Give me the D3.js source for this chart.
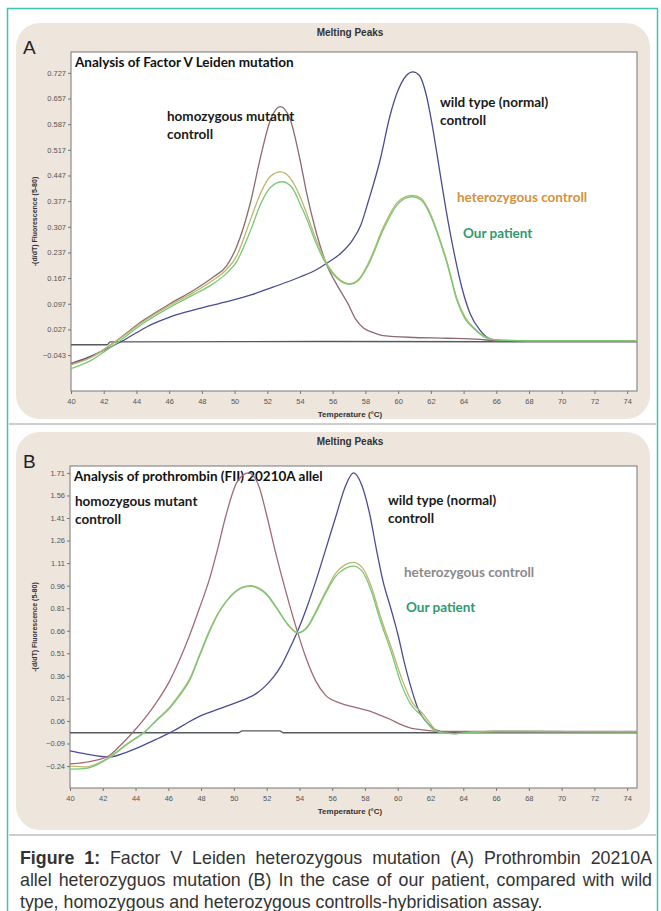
<!DOCTYPE html>
<html>
<head>
<meta charset="utf-8">
<script src="https://cdn.jsdelivr.net/npm/d3@7"></script>
<style>
    body { margin: 0; background: #fff; }
    #wrap { position: relative; width: 661px; height: 911px; }
    svg { position: absolute; left: 0; top: 0; }
    .tick text { font-family: 'Liberation Sans', Arial, sans-serif; font-size: 7.5px; fill: #555; }
    .tick line, .domain { stroke: #777; }
    .title { font-family: 'Liberation Sans', Arial, sans-serif; font-weight: bold; font-size: 10px; fill: #333; }
    .lbl { font-family: Lato, 'Open Sans', sans-serif; font-weight: bold; font-size: 13.5px; }
    #caption { position: absolute; left: 20px; top: 847px; width: 632px; font-family: 'Liberation Sans', Arial, sans-serif; font-size: 17.8px; line-height: 22px; color: #333; }
    #caption div { text-align: justify; text-align-last: justify; white-space: nowrap; }
    #caption div.last { text-align-last: left; }
</style>
</head>
<body>
<div id="wrap">
<svg id="fig" width="661" height="911"></svg>
<div id="caption">
    <div><b>Figure 1:</b> Factor V Leiden heterozygous mutation (A) Prothrombin 20210A</div>
    <div>allel heterozyguos mutation (B) In the case of our patient, compared with wild</div>
    <div class="last">type, homozygous and heterozygous controlls-hybridisation assay.</div>
</div>
</div>
<script>
// temperature ticks (shared)
const xTicks = [40, 42, 44, 46, 48, 50, 52, 54, 56, 58, 60, 62, 64, 66, 68, 70, 72, 74];

// ---- Panel A: Factor V Leiden ----
const yTicksA = [0.727, 0.657, 0.587, 0.517, 0.447, 0.377, 0.307, 0.237, 0.167, 0.097, 0.027, -0.043];

const baseA = [[40, -0.015], [42.2, -0.015], [42.4, -0.007], [56, -0.006], [74.6, -0.007]];

const wildA = [[40, -0.066], [41, -0.05], [42, -0.03], [43, -0.008], [44, 0.018], [45, 0.042], [46, 0.060],
    [47, 0.074], [48, 0.086], [49, 0.097], [50, 0.108], [51, 0.121], [52, 0.137], [53, 0.153], [54, 0.170],
    [55, 0.19], [55.6, 0.207], [56.5, 0.235], [57.2, 0.27], [57.7, 0.31], [58.2, 0.38], [58.9, 0.49],
    [59.5, 0.61], [60.0, 0.68], [60.5, 0.72], [60.9, 0.73], [61.3, 0.72], [61.7, 0.67], [62.1, 0.58],
    [62.5, 0.47], [62.9, 0.36], [63.4, 0.24], [63.9, 0.14], [64.4, 0.07], [65.0, 0.025], [65.7, 0.0],
    [67, -0.005], [70, -0.004], [74.6, -0.004]];

const homoA = [[40, -0.066], [41.2, -0.049], [42.8, -0.003], [44.4, 0.051], [46.05, 0.097], [47.5, 0.134],
    [48.7, 0.17], [49.5, 0.2], [50.1, 0.25], [50.95, 0.37], [51.6, 0.50], [52.2, 0.6], [52.8, 0.635],
    [53.4, 0.6], [54.0, 0.49], [54.4, 0.40], [55.0, 0.29], [55.6, 0.207], [56.3, 0.145], [56.9, 0.10],
    [57.4, 0.055], [57.9, 0.03], [58.5, 0.018], [59.1, 0.01], [61, 0.005], [63, 0.003], [65, 0.0],
    [66, -0.004], [70, -0.004], [74.6, -0.004]];

const hetA = [[40, -0.07], [41.2, -0.05], [42.8, -0.004], [44.4, 0.048], [46.05, 0.093], [47.5, 0.128],
    [48.7, 0.162], [49.5, 0.19], [50.1, 0.225], [51.0, 0.33], [51.6, 0.40], [52.2, 0.445], [52.8, 0.457],
    [53.4, 0.44], [54.0, 0.39], [54.4, 0.344], [55.0, 0.27], [55.6, 0.21], [56.3, 0.168], [57.0, 0.152],
    [57.6, 0.165], [58.2, 0.21], [59.1, 0.307], [59.9, 0.371], [60.5, 0.39], [60.9, 0.393], [61.4, 0.385],
    [62.0, 0.34], [62.5, 0.28], [63.0, 0.21], [63.6, 0.11], [64.1, 0.06], [64.6, 0.033], [65.2, 0.01],
    [65.7, 0.0], [68, -0.004], [74.6, -0.004]];

const patientA = [[40, -0.08], [41.2, -0.058], [42.8, -0.01], [44.4, 0.043], [46.05, 0.088], [47.5, 0.122],
    [48.7, 0.152], [49.5, 0.18], [50.1, 0.21], [51.0, 0.30], [51.6, 0.37], [52.2, 0.415], [52.9, 0.43],
    [53.5, 0.415], [54.0, 0.37], [54.4, 0.33], [55.0, 0.26], [55.6, 0.205], [56.3, 0.165], [57.0, 0.15],
    [57.6, 0.162], [58.2, 0.205], [59.1, 0.30], [59.9, 0.365], [60.5, 0.386], [60.9, 0.389], [61.4, 0.38],
    [62.0, 0.335], [62.5, 0.275], [63.0, 0.205], [63.6, 0.105], [64.1, 0.055], [64.6, 0.03], [65.2, 0.008],
    [65.7, 0.0], [68, -0.004], [74.6, -0.004]];

// ---- Panel B: prothrombin 20210A ----
const yTicksB = [1.71, 1.56, 1.41, 1.26, 1.11, 0.96, 0.81, 0.66, 0.51, 0.36, 0.21, 0.06, -0.09, -0.24];

const baseB = [[40, -0.018], [50.3, -0.018], [50.5, -0.006], [52.8, -0.006], [53.0, -0.018], [74.6, -0.018]];

const wildB = [[40, -0.139], [41, -0.16], [42.4, -0.18], [43.4, -0.15], [44.4, -0.106], [45.4, -0.055],
    [46.3, -0.007], [47.2, 0.05], [48.1, 0.10], [49.1, 0.14], [50.1, 0.18], [50.8, 0.21], [51.4, 0.245],
    [51.9, 0.29], [52.4, 0.35], [52.9, 0.43], [53.4, 0.54], [53.9, 0.66], [54.5, 0.83], [55.0, 0.99],
    [55.6, 1.2], [56.25, 1.43], [56.8, 1.62], [57.3, 1.71], [57.8, 1.63], [58.3, 1.43], [58.7, 1.2],
    [59.1, 0.99], [59.6, 0.8], [60.0, 0.64], [60.4, 0.45], [60.7, 0.325], [61.3, 0.126], [61.7, 0.06],
    [62.1, 0.015], [62.6, -0.01], [63.2, -0.022], [63.8, -0.02], [64.5, -0.012], [66, -0.01], [74.6, -0.012]];

const homoB = [[40, -0.226], [41.4, -0.206], [42.4, -0.17], [43.1, -0.1], [43.8, -0.02], [44.4, 0.055],
    [45.0, 0.14], [45.5, 0.22], [46.05, 0.32], [46.7, 0.47], [47.3, 0.63], [47.9, 0.81], [48.5, 1.0],
    [49.0, 1.2], [49.5, 1.42], [50.2, 1.65], [50.9, 1.71], [51.5, 1.63], [52.0, 1.43], [52.5, 1.2],
    [53.0, 0.99], [53.4, 0.83], [53.9, 0.646], [54.4, 0.48], [55.0, 0.325], [55.6, 0.23], [56.45, 0.18],
    [57.4, 0.15], [58.3, 0.126], [59.0, 0.095], [59.5, 0.073], [60.1, 0.04], [60.7, 0.015], [61.75, -0.002],
    [63, -0.01], [66, -0.01], [74.6, -0.01]];

const hetB = [[40, -0.24], [41, -0.245], [42.4, -0.18], [43.5, -0.09], [44.6, -0.007], [45.3, 0.07],
    [46.05, 0.148], [46.7, 0.24], [47.3, 0.34], [47.9, 0.5], [48.5, 0.66], [49.0, 0.77], [49.5, 0.85],
    [50.0, 0.91], [50.5, 0.945], [51.0, 0.955], [51.5, 0.94], [52.0, 0.9], [52.6, 0.81], [53.3, 0.70],
    [53.9, 0.646], [54.5, 0.69], [55.0, 0.79], [55.6, 0.92], [56.2, 1.04], [56.8, 1.1], [57.3, 1.115],
    [57.8, 1.085], [58.4, 0.95], [58.9, 0.77], [59.6, 0.55], [60.3, 0.325], [60.9, 0.18], [61.55, 0.106],
    [62.0, 0.04], [62.3, 0.0], [62.8, -0.02], [63.5, -0.025], [64.5, -0.015], [66, -0.01], [74.6, -0.012]];

const patientB = [[40, -0.26], [41, -0.255], [42.4, -0.185], [43.5, -0.095], [44.6, -0.01], [45.3, 0.065],
    [46.05, 0.14], [46.7, 0.23], [47.3, 0.33], [47.9, 0.49], [48.5, 0.65], [49.0, 0.765], [49.5, 0.85],
    [50.0, 0.913], [50.5, 0.948], [51.0, 0.96], [51.5, 0.945], [52.0, 0.905], [52.6, 0.815], [53.3, 0.70],
    [53.9, 0.646], [54.5, 0.685], [55.0, 0.78], [55.6, 0.91], [56.2, 1.02], [56.8, 1.075], [57.3, 1.09],
    [57.8, 1.06], [58.4, 0.92], [58.9, 0.74], [59.6, 0.52], [60.2, 0.31], [60.8, 0.17], [61.45, 0.095],
    [61.9, 0.035], [62.2, 0.0], [62.8, -0.02], [63.5, -0.025], [64.5, -0.015], [66, -0.01], [74.6, -0.012]];

const svg = d3.select('#fig');

// outer teal frame
svg.append('rect')
    .attr('x', 7.5).attr('y', 8.5)
    .attr('width', 650).attr('height', 920)
    .attr('fill', 'none')
    .attr('stroke', '#3fc4b4')
    .attr('stroke-width', 1.5);

function drawPanel(cfg) {
    const p = cfg.panel;
    // beige rounded backdrop
    svg.append('rect')
        .attr('x', p.x).attr('y', p.y)
        .attr('width', p.w).attr('height', p.h)
        .attr('rx', 24).attr('ry', 24)
        .attr('fill', '#eee5dd');
    svg.append('line')
        .attr('x1', 9).attr('x2', 656)
        .attr('y1', p.y + p.h + 5).attr('y2', p.y + p.h + 5)
        .attr('stroke', '#bdbdbd').attr('stroke-width', 1.5);

    const b = cfg.box;
    const x = d3.scaleLinear().domain([40, 74.6]).range([b.x0, b.x1]);
    const y = d3.scaleLinear().domain(cfg.yDomain).range([b.y1, b.y0]);

    svg.append('rect')
        .attr('x', b.x0).attr('y', b.y0)
        .attr('width', b.x1 - b.x0).attr('height', b.y1 - b.y0)
        .attr('fill', '#fff')
        .attr('stroke', '#777').attr('stroke-width', 1);

    svg.append('g')
        .attr('transform', `translate(${b.x0},0)`)
        .call(d3.axisLeft(y).tickValues(cfg.yTicks).tickFormat(cfg.fmt).tickSize(3).tickPadding(2))
        .call(g => g.select('.domain').remove());

    svg.append('g')
        .attr('transform', `translate(0,${b.y1})`)
        .call(d3.axisBottom(x).tickValues(xTicks).tickFormat(d3.format('d')).tickSize(3).tickPadding(5))
        .call(g => g.select('.domain').remove());

    // titles
    svg.append('text').attr('class', 'title')
        .attr('x', 350).attr('y', p.y + 13)
        .attr('text-anchor', 'middle')
        .text('Melting Peaks');
    svg.append('text').attr('class', 'title')
        .attr('x', 350).attr('y', b.y1 + 26)
        .attr('text-anchor', 'middle')
        .style('font-size', '8px')
        .text('Temperature (°C)');
    svg.append('text')
        .attr('transform', `translate(37,${(b.y0 + b.y1) / 2}) rotate(-90)`)
        .attr('text-anchor', 'middle')
        .attr('class', 'title')
        .style('font-size', '7px')
        .text('-(d/dT) Fluorescence (5-80)');
    svg.append('text')
        .attr('x', 23).attr('y', b.y0 + 2)
        .attr('font-family', "'Liberation Sans', Arial, sans-serif")
        .attr('font-size', 19)
        .attr('fill', '#222')
        .text(cfg.letter);
    svg.append('text').attr('class', 'lbl')
        .attr('x', b.x0 + 4).attr('y', b.y0 + 15)
        .attr('fill', '#111')
        .text(cfg.heading);

    const line = d3.line()
        .x(d => x(d[0]))
        .y(d => y(d[1]))
        .curve(d3.curveMonotoneX);

    const plot = svg.append('g');
    cfg.series.forEach(s => {
        plot.append('path')
            .datum(s.data)
            .attr('d', line)
            .attr('fill', 'none')
            .attr('stroke', s.color)
            .attr('stroke-width', s.width || 1.3)
            .attr('stroke-linejoin', 'round');
    });

    cfg.labels.forEach(l => {
        const t = svg.append('text').attr('class', 'lbl')
            .attr('x', l.x).attr('y', l.y)
            .attr('fill', l.color);
        l.lines.forEach((s, i) => {
            t.append('tspan').attr('x', l.x).attr('dy', i === 0 ? 0 : 18).text(s);
        });
    });
}

drawPanel({
    letter: 'A',
    heading: 'Analysis of Factor V Leiden mutation',
    panel: {x: 16, y: 23, w: 634, h: 396},
    box: {x0: 71, x1: 637, y0: 52, y1: 391},
    yDomain: [-0.141, 0.784],
    yTicks: yTicksA,
    fmt: d3.format('.3f'),
    series: [
        {data: baseA, color: '#555a60', width: 1.4},
        {data: wildA, color: '#4b4c93'},
        {data: homoA, color: '#8c6a70'},
        {data: hetA, color: '#bdb66c'},
        {data: patientA, color: '#78c878'}
    ],
    labels: [
        {x: 167, y: 121, color: '#1a1a1a', lines: ['homozygous mutatnt', 'controll']},
        {x: 440, y: 107, color: '#1a1a1a', lines: ['wild type (normal)', 'controll']},
        {x: 457, y: 202, color: '#d4923c', lines: ['heterozygous controll']},
        {x: 463, y: 238, color: '#2e9a6e', lines: ['Our patient']}
    ]
});

drawPanel({
    letter: 'B',
    heading: 'Analysis of prothrombin (FII) 20210A allel',
    panel: {x: 16, y: 432, w: 634, h: 398},
    box: {x0: 70, x1: 637, y0: 466, y1: 788},
    yDomain: [-0.386, 1.756],
    yTicks: yTicksB,
    fmt: d3.format('.2f'),
    series: [
        {data: baseB, color: '#555a60', width: 1.4},
        {data: wildB, color: '#4b4c93'},
        {data: homoB, color: '#a06a74'},
        {data: hetB, color: '#bdb66c'},
        {data: patientB, color: '#78c878'}
    ],
    labels: [
        {x: 75, y: 506, color: '#1a1a1a', lines: ['homozygous mutant', 'controll']},
        {x: 388, y: 505, color: '#1a1a1a', lines: ['wild type (normal)', 'controll']},
        {x: 404, y: 577, color: '#8a8a8a', lines: ['heterozygous controll']},
        {x: 406, y: 612, color: '#2e9a6e', lines: ['Our patient']}
    ]
});
</script>
</body>
</html>
